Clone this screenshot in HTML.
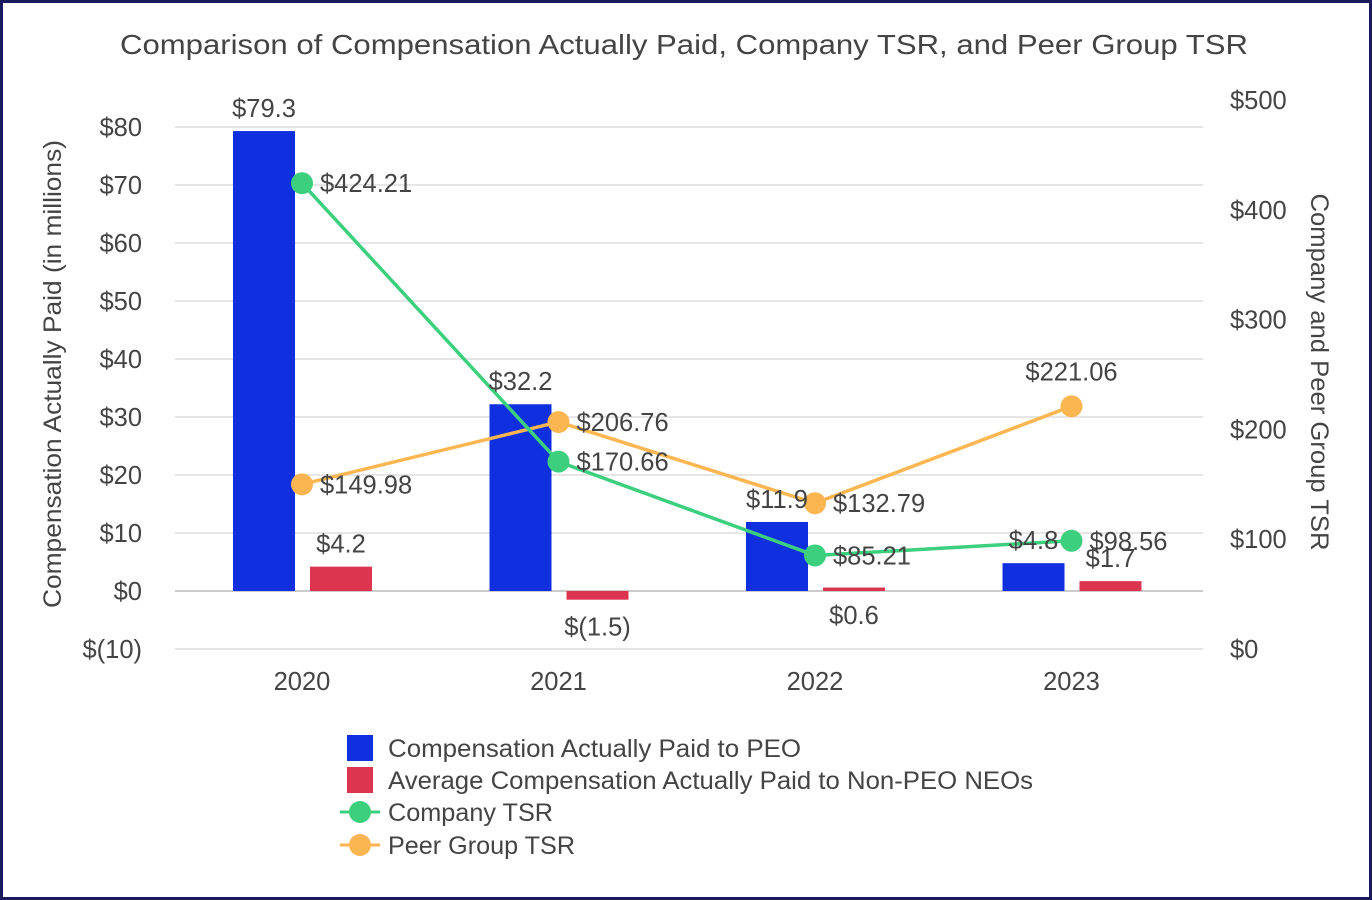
<!DOCTYPE html>
<html><head><meta charset="utf-8"><style>
html,body{margin:0;padding:0;background:#fff;}
#wrap{position:relative;width:1372px;height:900px;box-sizing:border-box;border:3px solid #1a1a5e;overflow:hidden;}
svg text{font-family:"Liberation Sans",sans-serif;fill:#444;}
</style></head><body>
<div id="wrap">
<svg id="chart" width="1366" height="894" viewBox="3 3 1366 894" xmlns="http://www.w3.org/2000/svg">
<text x="120" y="54" font-size="28" textLength="1128" lengthAdjust="spacingAndGlyphs">Comparison of Compensation Actually Paid, Company TSR, and Peer Group TSR</text>
<g id="grid"></g><g id="bars"></g><g id="lines"></g><g id="labels"></g>
<text transform="translate(61,374) rotate(-90)" text-anchor="middle" font-size="25" textLength="468" lengthAdjust="spacingAndGlyphs">Compensation Actually Paid (in millions)</text>
<text transform="translate(1311,372) rotate(90)" text-anchor="middle" font-size="25" textLength="357" lengthAdjust="spacingAndGlyphs">Company and Peer Group TSR</text>
<g>
<rect x="347" y="735" width="26" height="26" fill="#1030e0"/>
<text x="388" y="757" font-size="25" textLength="413" lengthAdjust="spacingAndGlyphs">Compensation Actually Paid to PEO</text>
<rect x="347" y="767" width="26" height="26" fill="#dc3550"/>
<text x="388" y="789" font-size="25" textLength="645" lengthAdjust="spacingAndGlyphs">Average Compensation Actually Paid to Non-PEO NEOs</text>
<line x1="340" y1="812" x2="380" y2="812" stroke="#3ccf7e" stroke-width="3"/>
<circle cx="360" cy="812" r="11" fill="#3ccf7e"/>
<text x="388" y="821" font-size="25" textLength="165" lengthAdjust="spacingAndGlyphs">Company TSR</text>
<line x1="340" y1="845" x2="380" y2="845" stroke="#fbb651" stroke-width="3"/>
<circle cx="360" cy="845" r="11" fill="#fbb651"/>
<text x="388" y="854" font-size="25" textLength="187" lengthAdjust="spacingAndGlyphs">Peer Group TSR</text>
</g>
</svg>
</div>
<script>
const categories=["2020","2021","2022","2023"];
const peoValues=[79.3,32.2,11.9,4.8];
const neoValues=[4.2,-1.5,0.6,1.7];
const companyTsr=[424.21,170.66,85.21,98.56];
const peerTsr=[149.98,206.76,132.79,221.06];
const leftTicks=[-10,0,10,20,30,40,50,60,70,80];
const rightTicks=[0,100,200,300,400,500];
const NS="http://www.w3.org/2000/svg";
function yL(v){return 591-v*5.8;}
function yR(v){return 649-v*1.098;}
function xC(i){return 302+i*256.5;}
function mk(tag,attrs,parent,txt){const e=document.createElementNS(NS,tag);for(const k in attrs)e.setAttribute(k,attrs[k]);if(txt!==undefined)e.textContent=txt;document.getElementById(parent).appendChild(e);return e;}
function fmtL(v){return v<0?"$("+Math.abs(v)+")":"$"+v;}
const FS=25.5;
leftTicks.forEach(t=>{
 const l=mk("line",{x1:175,x2:1203,y1:yL(t),y2:yL(t),stroke:t===0?"#ccc":"#e6e6e6","stroke-width":2},"grid");
 
 
 const tx=mk("text",{x:142,y:yL(t)+9,"text-anchor":"end","font-size":FS},"grid",fmtL(t));
 
 
});
rightTicks.forEach(t=>{
 const tx=mk("text",{x:1230,y:yR(t)+9,"font-size":FS},"grid","$"+t);
 
 
});
categories.forEach((c,i)=>{
 const tx=mk("text",{x:xC(i),y:690,"text-anchor":"middle","font-size":FS},"grid",c);
 
 
 const p=peoValues[i],n=neoValues[i];
 const b1=mk("rect",{x:xC(i)-69,width:62,y:Math.min(yL(p),yL(0)),height:Math.abs(yL(p)-yL(0)),fill:"#1030e0"},"bars");
 
 
 const b2=mk("rect",{x:xC(i)+8,width:62,y:Math.min(yL(n),yL(0)),height:Math.abs(yL(n)-yL(0)),fill:"#dc3550"},"bars");
 
 
 const l1=mk("text",{x:xC(i)-38,y:yL(p)-14,"text-anchor":"middle","font-size":FS},"labels","$"+p.toFixed(1));
 
 
 let ny=n<0?yL(n)+36:(n<1?yL(0)+33:yL(n)-14);
 const l2=mk("text",{x:xC(i)+39,y:ny,"text-anchor":"middle","font-size":FS},"labels",n<0?"$("+Math.abs(n).toFixed(1)+")":"$"+n.toFixed(1));
 
 
});
function series(vals,color,name,lblPos){
 const pts=vals.map((v,i)=>xC(i)+","+yR(v)).join(" ");
 const pl=mk("polyline",{points:pts,fill:"none",stroke:color,"stroke-width":3.5},"lines");
 
 
 vals.forEach((v,i)=>{
  const c=mk("circle",{cx:xC(i),cy:yR(v),r:11,fill:color},"lines");
  
  
  const above=lblPos[i]==="a";
  const t=mk("text",{x:above?xC(i):xC(i)+18,y:above?yR(v)-26:yR(v)+9,"text-anchor":above?"middle":"start","font-size":FS},"labels","$"+v.toFixed(2));
  
  
 });
}
series(peerTsr,"#fbb651","peer-tsr",["r","r","r","a"]);
series(companyTsr,"#3ccf7e","company-tsr",["r","r","r","r"]);
</script>
</body></html>
